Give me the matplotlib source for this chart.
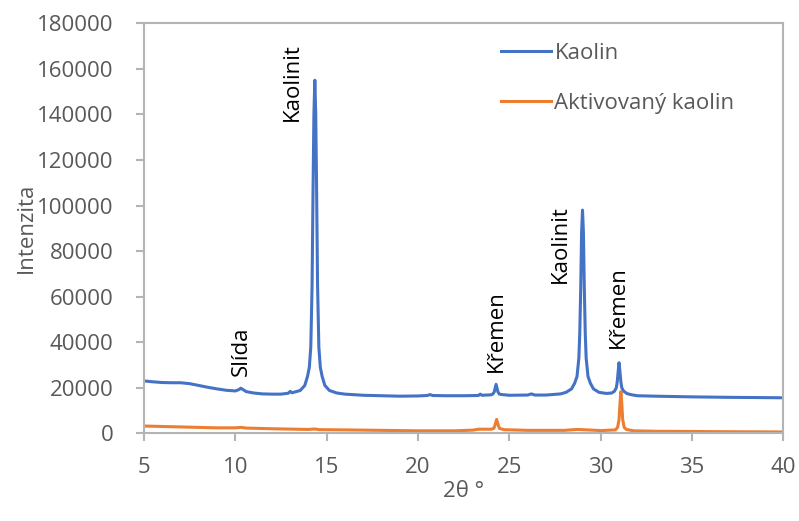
import matplotlib.pyplot as plt
import numpy as np

plt.rcParams['font.family'] = ['Open Sans', 'DejaVu Sans']

# 2theta a intenzita, po řádcích 10 hodnot
kaolin_x = [5.0, 5.5, 6.0, 6.5, 7.0, 7.5, 8.0, 8.5, 9.0, 9.5,
            10.0, 10.2, 10.3, 10.4, 10.6, 11.0, 11.5, 12.0, 12.5, 12.9,
            13.0, 13.1, 13.55, 13.8, 13.95, 14.05, 14.13, 14.2, 14.25, 14.3,
            14.35, 14.4, 14.45, 14.5, 14.57, 14.65, 14.75, 14.9, 15.15, 15.55,
            16.0, 17.0, 18.0, 19.0, 20.0, 20.5, 20.65, 20.8, 21.5, 22.5,
            23.3, 23.4, 23.5, 24.0, 24.1, 24.17, 24.27, 24.37, 24.45, 24.6,
            25.0, 26.0, 26.2, 26.4, 27.0, 27.8, 28.1, 28.4, 28.57, 28.7,
            28.8, 28.85, 28.9, 28.95, 29.0, 29.05, 29.1, 29.15, 29.2, 29.3,
            29.43, 29.6, 29.9, 30.3, 30.6, 30.75, 30.85, 30.9, 30.95, 31.0,
            31.05, 31.1, 31.15, 31.25, 31.45, 31.7, 32.0, 33.0, 35.0, 37.0,
            40.0]
kaolin_y = [23000, 22600, 22300, 22200, 22200, 21800, 21000, 20200, 19500, 18900,
            18600, 19200, 19800, 19300, 18300, 17700, 17300, 17200, 17200, 17600,
            18400, 17800, 18800, 21000, 25000, 29000, 38000, 65000, 105000, 140000,
            155000, 140000, 105000, 65000, 38000, 29000, 25000, 21000, 18800, 17700,
            17200, 16700, 16500, 16300, 16400, 16600, 17000, 16600, 16500, 16500,
            16600, 17200, 16700, 16900, 17300, 18200, 21500, 18200, 17200, 17000,
            16700, 16800, 17300, 16800, 16800, 17300, 18000, 19500, 22000, 25000,
            33000, 44000, 63000, 88000, 98000, 88000, 63000, 44000, 33000, 25000,
            22000, 19500, 18000, 17500, 17700, 18500, 20000, 22500, 27000, 31000,
            27000, 22500, 20000, 18500, 17400, 16900, 16500, 16300, 16000, 15800,
            15600]

aktiv_x = [5.0, 6.0, 7.0, 8.0, 9.0, 10.0, 10.3, 10.6, 12.0, 14.0,
           14.35, 14.6, 16.0, 18.0, 20.0, 22.0, 23.0, 23.3, 24.0, 24.15,
           24.22, 24.3, 24.38, 24.45, 24.7, 26.0, 28.0, 28.7, 29.0, 30.0,
           30.8, 30.92, 31.0, 31.05, 31.1, 31.15, 31.2, 31.28, 31.4, 31.8,
           33.0, 35.0, 37.0, 40.0]
aktiv_y = [3200, 3000, 2800, 2600, 2400, 2400, 2600, 2300, 2000, 1700,
           1900, 1600, 1500, 1300, 1100, 1100, 1400, 1800, 1800, 2200,
           3800, 6100, 3800, 2200, 1600, 1300, 1300, 1700, 1600, 1200,
           1500, 2600, 6000, 13000, 18300, 13000, 6000, 2600, 1700, 1100,
           900, 800, 700, 600]

# popisky píků
popisky = ['Slída', 'Kaolinit', 'Křemen', 'Kaolinit', 'Křemen']
popisky_x = [10.3, 13.1, 24.27, 27.8, 30.97]
popisky_y = [25000, 137000, 27000, 66000, 37500]

seda = '#B4B4B4'
text_barva = '#595959'

fig = plt.figure(figsize=(7.99, 5.21), dpi=100)
ax = fig.add_axes([0.1802, 0.1683, 0.8004, 0.787])

ax.plot(kaolin_x, kaolin_y, color='#4472C4', lw=2.2, label='Kaolin')
ax.plot(aktiv_x, aktiv_y, color='#ED7D31', lw=2.2, label='Aktivovaný kaolin')

for t, x, y in zip(popisky, popisky_x, popisky_y):
    ax.text(x, y, t, rotation=90, ha='center', va='bottom', fontsize=16, color='black')

ax.set_xlim(5, 40)
ax.set_ylim(0, 180000)
ax.set_xticks(np.arange(5, 41, 5))
ax.set_yticks(np.arange(0, 180001, 20000))

for s in ax.spines.values():
    s.set_color(seda)
    s.set_linewidth(1.5)
ax.tick_params(axis='both', colors=seda, labelcolor=text_barva, labelsize=16,
               length=6, width=1.5, direction='out')
ax.tick_params(axis='y', pad=16)
ax.tick_params(axis='x', pad=11)

ax.set_xlabel('2θ °', fontsize=16, color=text_barva, labelpad=2)
ax.set_ylabel('Intenzita', fontsize=16, color=text_barva, labelpad=0)

ax.legend(loc='upper left', bbox_to_anchor=(0.541, 0.98), frameon=False, fontsize=16,
          handlelength=2.25, handletextpad=0.15, labelspacing=1.32, borderpad=0,
          labelcolor=text_barva)

fig.savefig('out.png', dpi=100)
